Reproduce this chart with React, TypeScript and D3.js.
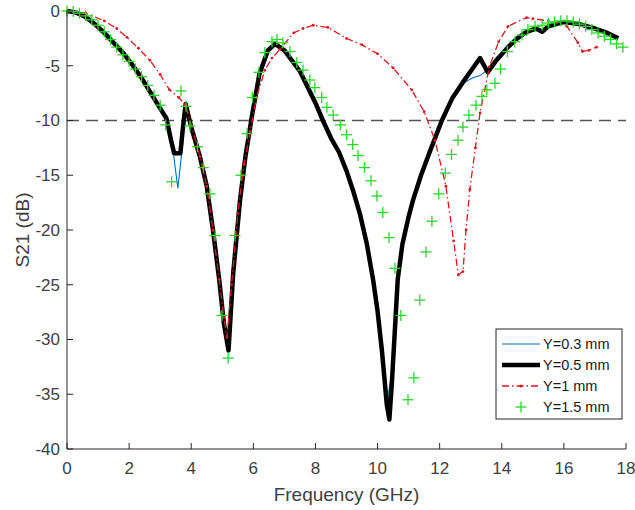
import React from "react";
import * as d3 from "d3";

// Y=0.3 mm
const freq03 = [0, 0.3, 0.6, 0.9, 1.2, 1.5, 1.8, 2.1, 2.4, 2.7, 3.0, 3.2, 3.4, 3.57, 3.73, 3.82, 4.0, 4.28, 4.5, 4.7, 4.9, 5.05, 5.2, 5.35, 5.57, 5.75, 5.96, 6.2, 6.47, 6.7, 7.0, 7.5, 8.0, 8.24, 8.5, 8.76, 9.0, 9.2, 9.43, 9.65, 9.86, 10.0, 10.14, 10.3, 10.46, 10.56, 10.65, 10.8, 11.0, 11.14, 11.4, 11.69, 12.07, 12.4, 12.75, 13.07, 13.3, 13.52, 13.84, 14.2, 14.5, 14.8, 15.1, 15.3, 15.5, 16.0, 16.5, 17.0, 17.4, 17.75];
const s21_03 = [0, -0.15, -0.55, -1.2, -2.0, -2.9, -3.8, -4.9, -6.1, -7.5, -8.9, -9.8, -12.4, -16.2, -12.0, -8.5, -10.6, -13.3, -16.0, -20.0, -24.5, -28.0, -30.3, -24.0, -17.3, -13.2, -9.5, -5.7, -3.6, -3.0, -3.6, -5.5, -8.4, -10.0, -11.6, -12.9, -14.6, -16.3, -18.5, -21.2, -24.6, -27.2, -30.5, -35.8, -33.0, -28.5, -24.5, -21.3, -18.8, -17.3, -15.0, -12.8, -10.0, -8.0, -6.6, -6.1, -5.9, -5.4, -4.2, -3.3, -2.5, -1.9, -1.6, -1.9, -1.4, -1.0, -1.2, -1.6, -2.0, -2.5];

// Y=0.5 mm
const freq05 = [0, 0.3, 0.6, 0.9, 1.2, 1.5, 1.8, 2.1, 2.4, 2.7, 3.0, 3.2, 3.35, 3.45, 3.65, 3.72, 3.82, 4.0, 4.28, 4.5, 4.7, 4.9, 5.05, 5.2, 5.35, 5.57, 5.75, 5.96, 6.2, 6.47, 6.7, 7.0, 7.5, 8.0, 8.24, 8.5, 8.76, 9.0, 9.2, 9.43, 9.65, 9.86, 10.0, 10.14, 10.3, 10.38, 10.46, 10.56, 10.65, 10.8, 11.0, 11.14, 11.4, 11.69, 12.07, 12.4, 12.75, 13.05, 13.3, 13.55, 13.8, 14.2, 14.5, 14.8, 15.1, 15.3, 15.5, 16.0, 16.5, 17.0, 17.4, 17.75];
const s21_05 = [0, -0.15, -0.55, -1.2, -2.0, -2.9, -3.8, -4.9, -6.1, -7.5, -8.9, -9.8, -11.8, -13.0, -13.0, -11.0, -8.5, -10.6, -13.3, -16.0, -20.0, -24.5, -28.5, -31.0, -24.0, -17.3, -13.2, -9.5, -5.7, -3.6, -3.0, -3.6, -5.5, -8.4, -10.0, -11.6, -12.9, -14.6, -16.3, -18.5, -21.2, -24.6, -27.4, -31.0, -36.0, -37.3, -34.0, -29.0, -24.5, -21.3, -18.8, -17.3, -15.0, -12.8, -10.0, -8.0, -6.5, -5.3, -4.3, -5.6, -4.6, -3.3, -2.5, -1.9, -1.6, -1.9, -1.4, -1.0, -1.2, -1.6, -2.0, -2.5];

// Y=1 mm
const freq1 = [0, 0.6, 1.2, 1.6, 1.93, 2.3, 2.67, 3.0, 3.3, 3.6, 3.82, 4.0, 4.28, 4.5, 4.7, 4.9, 5.05, 5.15, 5.3, 5.5, 5.7, 5.9, 6.1, 6.37, 6.6, 6.86, 7.3, 7.6, 7.93, 8.4, 9.0, 9.5, 10.0, 10.5, 11.1, 11.5, 11.85, 12.2, 12.45, 12.6, 12.75, 12.85, 12.97, 13.15, 13.3, 13.6, 13.9, 14.2, 14.8, 15.0, 15.5, 16.1, 16.45, 16.6, 16.8, 17.05];
const s21_1 = [0, -0.2, -0.9, -1.6, -2.4, -3.4, -4.5, -5.8, -7.2, -7.9, -8.6, -10.4, -13.3, -16.0, -20.0, -24.5, -28.0, -29.8, -25.0, -18.5, -14.0, -11.0, -7.9, -5.4, -4.3, -3.5, -2.0, -1.6, -1.3, -1.5, -2.5, -3.1, -3.9, -5.2, -7.2, -9.2, -11.8, -16.0, -21.0, -24.1, -23.8, -20.0, -16.3, -12.5, -9.3, -5.1, -2.8, -1.4, -0.6, -0.7, -0.9, -1.4, -2.9, -3.7, -3.6, -3.3];

// Y=1.5 mm
const freq15 = [0, 0.2, 0.4, 0.6, 0.8, 1.0, 1.2, 1.4, 1.6, 1.8, 2.0, 2.2, 2.4, 2.6, 2.8, 3.0, 3.18, 3.37, 3.67, 3.83, 3.96, 4.2, 4.39, 4.6, 4.77, 4.99, 5.19, 5.41, 5.6, 5.8, 5.97, 6.18, 6.37, 6.6, 6.76, 6.95, 7.18, 7.4, 7.6, 7.82, 7.98, 8.2, 8.37, 8.57, 8.8, 9.0, 9.2, 9.37, 9.58, 9.79, 9.98, 10.17, 10.37, 10.56, 10.75, 10.98, 11.17, 11.36, 11.56, 11.75, 11.97, 12.18, 12.38, 12.59, 12.75, 12.94, 13.17, 13.36, 13.52, 13.78, 13.96, 14.18, 14.42, 14.65, 14.84, 15.07, 15.3, 15.5, 15.7, 15.9, 16.1, 16.3, 16.5, 16.7, 16.9, 17.1, 17.3, 17.5, 17.7, 17.9];
const s21_15 = [0, -0.05, -0.2, -0.45, -0.8, -1.3, -1.9, -2.6, -3.3, -4.0, -4.6, -5.3, -6.0, -6.8, -7.7, -8.6, -10.4, -15.6, -7.3, -8.7, -10.5, -12.4, -14.3, -16.7, -20.5, -27.8, -31.7, -20.5, -15.0, -11.2, -7.9, -5.6, -3.8, -2.8, -2.6, -2.9, -3.7, -4.7, -5.4, -6.3, -7.0, -7.9, -8.8, -9.5, -10.4, -11.3, -12.2, -13.2, -14.3, -15.5, -16.9, -18.4, -20.7, -23.5, -27.8, -35.5, -33.5, -26.4, -22.0, -19.2, -16.7, -14.8, -13.1, -11.8, -10.6, -9.5, -8.6, -7.8, -7.2, -6.6, -5.3, -3.7, -2.8, -2.2, -1.7, -1.4, -1.3, -1.1, -1.0, -0.9, -0.9, -1.0, -1.2, -1.4, -1.7, -2.0, -2.3, -2.6, -3.0, -3.3];

const xTicks = [0, 2, 4, 6, 8, 10, 12, 14, 16, 18];
const yTicks = [0, -5, -10, -15, -20, -25, -30, -35, -40];
const threshold = -10;
const legendLabels = ["Y=0.3 mm", "Y=0.5 mm", "Y=1 mm", "Y=1.5 mm"];

const W = 635;
const H = 510;
const margin = { top: 11, right: 9, bottom: 61, left: 67 };
const FONT = "Arial, 'Liberation Sans', Helvetica, sans-serif";
const AXIS = "#262626";
const TEXT = "#404040";

const toPts = (f: number[], v: number[]) => f.map((d, i) => [d, v[i]] as [number, number]);

export default function App() {
  const x = d3.scaleLinear().domain([0, 18]).range([margin.left, W - margin.right]);
  const y = d3.scaleLinear().domain([-40, 0]).range([H - margin.bottom, margin.top]);
  const line = d3.line<[number, number]>().x(d => x(d[0])).y(d => y(d[1]));

  const red = toPts(freq1, s21_1);
  const green = toPts(freq15, s21_15);

  const plus = (cx: number, cy: number, s: number, key: any) => (
    <g key={key} stroke="#2ad62a" strokeWidth={1.3}>
      <line x1={cx - s} x2={cx + s} y1={cy} y2={cy} />
      <line x1={cx} x2={cx} y1={cy - s} y2={cy + s} />
    </g>
  );

  const legX = 496, legY = 329, legW = 126, legH = 90;
  const rowY = [344, 365, 386, 407];

  return (
    <svg width={W} height={H} style={{ position: "absolute", left: 0, top: 0, background: "#fff" }} fontFamily={FONT}>
      {/* threshold */}
      <line x1={x(0)} x2={x(18)} y1={y(threshold)} y2={y(threshold)} stroke="#555" strokeWidth={1.6} strokeDasharray="12,7" />

      {/* curves: blue under black, red and green on top */}
      <path d={line(toPts(freq03, s21_03)) || ""} fill="none" stroke="#0072BD" strokeWidth={1.1} />
      <path d={line(toPts(freq05, s21_05)) || ""} fill="none" stroke="#000" strokeWidth={4.5} strokeLinejoin="round" />
      <path d={line(red) || ""} fill="none" stroke="#e0161e" strokeWidth={1.3} strokeDasharray="7,3,1.5,3" />
      {red.map((d, i) => (
        <circle key={"r" + i} cx={x(d[0])} cy={y(d[1])} r={1.4} fill="#e0161e" />
      ))}
      {green.map((d, i) => plus(x(d[0]), y(d[1]), 5.5, "g" + i))}

      {/* axes */}
      <line x1={x(0)} x2={x(18)} y1={y(-40)} y2={y(-40)} stroke={AXIS} strokeWidth={1} />
      <line x1={x(0)} x2={x(0)} y1={y(-40)} y2={y(0)} stroke={AXIS} strokeWidth={1} />
      {xTicks.map(t => (
        <g key={"x" + t}>
          <line x1={x(t)} x2={x(t)} y1={y(-40)} y2={y(-40) - 6} stroke={AXIS} />
          <text x={x(t)} y={y(-40) + 25} textAnchor="middle" fontSize={17} fill={TEXT}>{t}</text>
        </g>
      ))}
      {yTicks.map(t => (
        <g key={"y" + t}>
          <line x1={x(0)} x2={x(0) + 6} y1={y(t)} y2={y(t)} stroke={AXIS} />
          <text x={x(0) - 7} y={y(t)} dy="0.35em" textAnchor="end" fontSize={17} fill={TEXT}>{t}</text>
        </g>
      ))}
      <text x={(x(0) + x(18)) / 2} y={501} textAnchor="middle" fontSize={19} fill={TEXT}>Frequency (GHz)</text>
      <text transform={`translate(29,${(y(0) + y(-40)) / 2}) rotate(-90)`} textAnchor="middle" fontSize={19} fill={TEXT}>S21 (dB)</text>

      {/* legend */}
      <rect x={legX} y={legY} width={legW} height={legH} fill="#fff" stroke="#262626" strokeWidth={1} />
      <line x1={502} x2={540} y1={rowY[0]} y2={rowY[0]} stroke="#0072BD" strokeWidth={1.1} />
      <line x1={502} x2={540} y1={rowY[1]} y2={rowY[1]} stroke="#000" strokeWidth={4.5} />
      <line x1={502} x2={540} y1={rowY[2]} y2={rowY[2]} stroke="#e0161e" strokeWidth={1.3} strokeDasharray="7,3,1.5,3" />
      <circle cx={521} cy={rowY[2]} r={1.6} fill="#e0161e" />
      {plus(521, rowY[3], 5.5, "lg")}
      {legendLabels.map((l, i) => (
        <text key={l} x={543} y={rowY[i]} dy="0.35em" fontSize={14.5} fill="#1a1a1a">{l}</text>
      ))}
    </svg>
  );
}
